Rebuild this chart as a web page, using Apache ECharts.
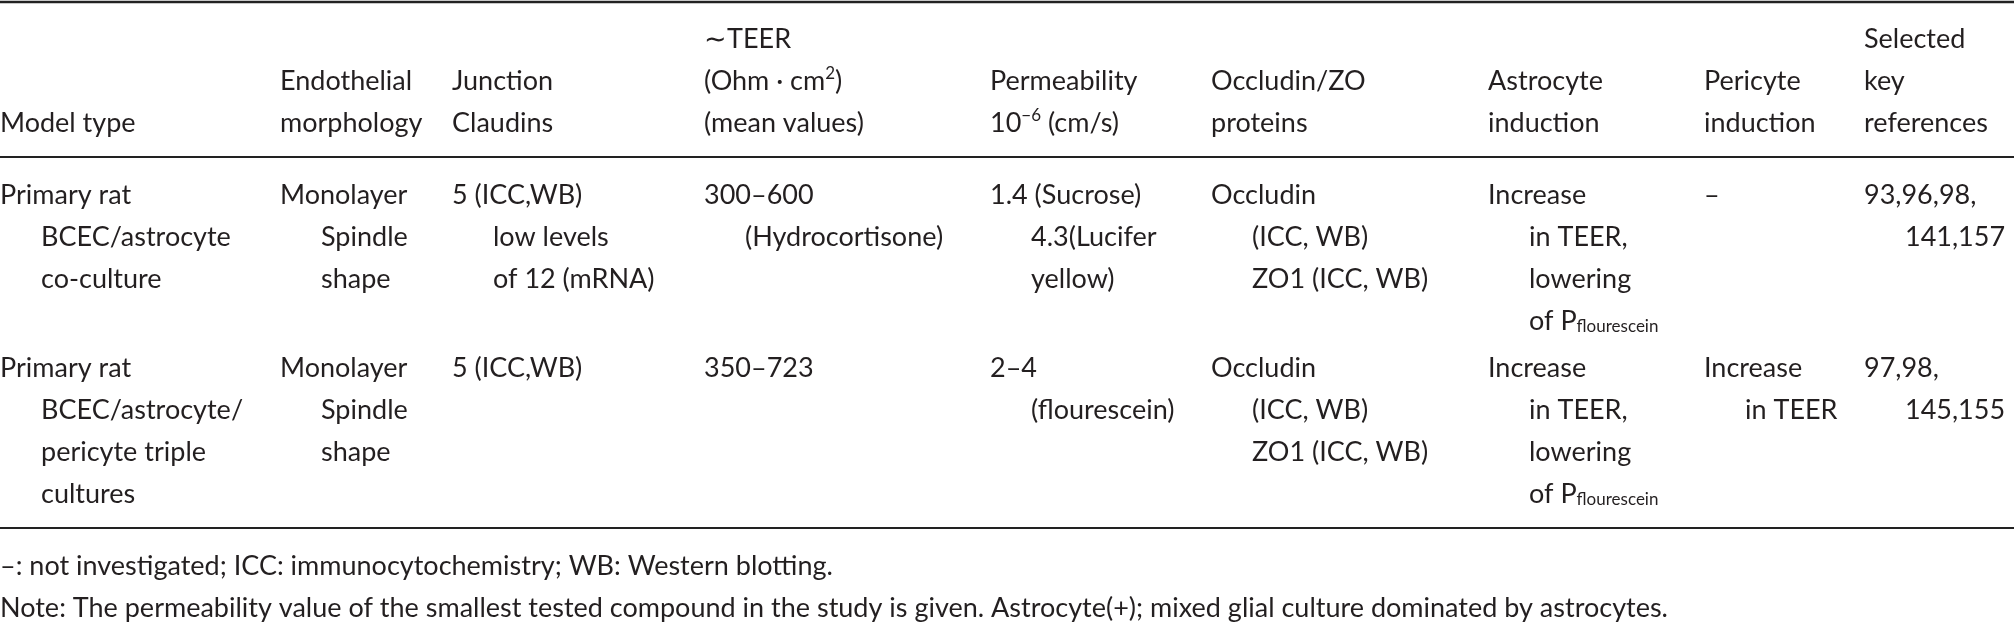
<!DOCTYPE html>
<html><head><meta charset="utf-8">
<script src="https://cdn.jsdelivr.net/npm/echarts@6/dist/echarts.min.js"></script>
<style>html,body{margin:0;background:#fff}#c{width:2014px;height:624px}</style>
</head><body><div id="c"></div>
<script>
// column left edges (px) and table content
const colX = [0, 280, 452, 704, 990, 1211, 1488, 1704, 1864];
const headers = [
  ['', '', 'Model type'],
  ['', 'Endothelial', 'morphology'],
  ['', 'Junction', 'Claudins'],
  ['∼TEER', '(Ohm · cm{sup|2})', '(mean values)'],
  ['', 'Permeability', '10{sup|−6} (cm/s)'],
  ['', 'Occludin/ZO', 'proteins'],
  ['', 'Astrocyte', 'induction'],
  ['', 'Pericyte', 'induction'],
  ['Selected', 'key', 'references']
];
const row1 = [
  ['Primary rat', 'BCEC/astrocyte', 'co-culture'],
  ['Monolayer', 'Spindle', 'shape'],
  ['5 (ICC,WB)', 'low levels', 'of 12 (mRNA)'],
  ['300–600', '(Hydrocortisone)'],
  ['1.4 (Sucrose)', '4.3(Lucifer', 'yellow)'],
  ['Occludin', '(ICC, WB)', 'ZO1 (ICC, WB)'],
  ['Increase', 'in TEER,', 'lowering', 'of P{sub|flourescein}'],
  ['–'],
  ['93,96,98,', '141,157']
];
const row2 = [
  ['Primary rat', 'BCEC/astrocyte/', 'pericyte triple', 'cultures'],
  ['Monolayer', 'Spindle', 'shape'],
  ['5 (ICC,WB)'],
  ['350–723'],
  ['2–4', '(flourescein)'],
  ['Occludin', '(ICC, WB)', 'ZO1 (ICC, WB)'],
  ['Increase', 'in TEER,', 'lowering', 'of P{sub|flourescein}'],
  ['Increase', 'in TEER'],
  ['97,98,', '145,155']
];
const notes = [
  '–: not investigated; ICC: immunocytochemistry; WB: Western blotting.',
  'Note: The permeability value of the smallest tested compound in the study is given. Astrocyte(+); mixed glial culture dominated by astrocytes.'
];

const ink = '#231f20', fs = 27, lh = 42, indent = 41;
const rich = {
  sup: {fontSize: 17, fill: ink, fontFamily: 'Lato', padding: [0, 0, 14, 0]},
  sub: {fontSize: 17, fill: ink, fontFamily: 'Lato', padding: [12, 0, 0, 0]}
};
const els = [];
function txt(s, x, y) {
  els.push({type: 'text', x: x, y: y, style: {text: s, fill: ink, font: fs + 'px Lato',
    verticalAlign: 'middle', rich: rich}});
}
function line(y, w) {
  els.push({type: 'line', shape: {x1: 0, y1: y, x2: 2014, y2: y}, style: {stroke: '#222', lineWidth: w}});
}
headers.forEach((c, i) => c.forEach((s, j) => { if (s) txt(s, colX[i], 39 + j * lh); }));
function row(r, y0) {
  r.forEach((c, i) => c.forEach((s, j) => txt(s, colX[i] + (j ? indent : 0), y0 + j * lh)));
}
row(row1, 195);
row(row2, 368);
notes.forEach((s, j) => txt(s, 0, 566 + j * lh));
line(2, 2.5); line(157, 2); line(528, 2);

const chart = echarts.init(document.getElementById('c'));
chart.setOption({animation: false, graphic: {elements: els}});
</script></body></html>
